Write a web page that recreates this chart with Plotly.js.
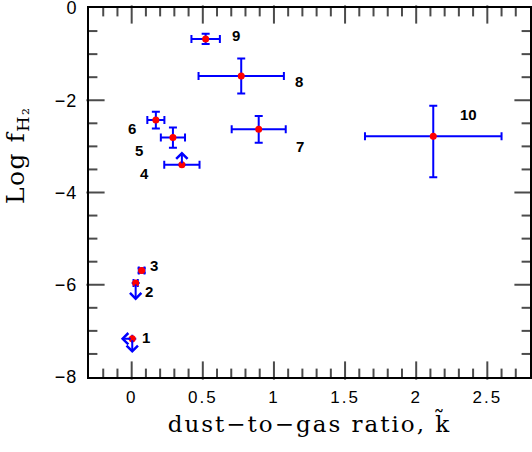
<!DOCTYPE html>
<html>
<head>
<meta charset="utf-8">
<script src="https://cdn.plot.ly/plotly-3.0.1.min.js"></script>
<style>
html,body{margin:0;padding:0;background:#fff;}#plot{width:532px;height:452px;}
text.xtitle, .g-xtitle text{letter-spacing:2px;}
g.annotation[data-index="14"] text{letter-spacing:1.5px;}
g.xtick text{letter-spacing:2px;}
g.ytick text{letter-spacing:1px;}
</style>
</head>
<body>
<div id="plot"></div>
<script>
// Data
const labels   = ['1','2','3','4','5','6','7','8','9','10'];
const kappa    = [0.004, 0.028, 0.07, 0.353, 0.29, 0.17, 0.893, 0.77, 0.52, 2.12];
const logf     = [-7.17, -5.96, -5.69, -3.40, -2.81, -2.43, -2.63, -1.475, -0.67, -2.78];
const kErr     = [0, 0.015, 0.02, 0.124, 0.085, 0.06, 0.19, 0.30, 0.10, 0.48];
const fErrPlus = [0, 0, 0.05, 0, 0.22, 0.18, 0.29, 0.38, 0.11, 0.66];
const fErrMinus= [0, 0, 0.05, 0, 0.22, 0.18, 0.29, 0.38, 0.11, 0.89];
// limit arrows: point index, arrow extent in k and in log f
const limitIdx = [0, 0, 1, 3];
const limitDk  = [-0.08, 0, 0, 0];
const limitDf  = [0, -0.31, -0.38, 0.29];
const xTicks = [0, 0.5, 1, 1.5, 2, 2.5];
const xTickText = ['0','0.5','1','1.5','2','2.5'];
const yTicks = [0, -2, -4, -6, -8];
const yTickText = ['0','\u22122','\u22124','\u22126','\u22128'];
const xRange = [-0.3, 2.8];
const yRange = [-8, 0];
const xMinorStep = 0.1;
const yMinorStep = 0.5;

// label offsets in px
const labDx = [14, 13, 12, -37, -34, -24, 41, 58, 30, 35];
const labDy = [1, -9, 5, -9, -13, -8, -17, -5, 3, 22];

const W = 532, H = 452, M = {l: 89, r: 2, t: 8, b: 75};
const pxX = (W - M.l - M.r) / (xRange[1] - xRange[0]);
const pxY = (H - M.t - M.b) / (yRange[1] - yRange[0]);
const majorLen = 13, minorLen = 7;

const blue = '#0000ff';

// tick marks as line-shaped markers centred half a tick length inside each edge
function near(a, v) { return a.some(t => Math.abs(t - v) < 1e-6); }
const vx = [], vy = [], vs = [];   // vertical ticks (x axis, bottom and top)
const hx = [], hy = [], hs = [];   // horizontal ticks (y axis, left and right)
function addXTick(v, len) {
  const d = len / 2 / pxY;
  vx.push(v, v); vy.push(yRange[0] + d, yRange[1] - d); vs.push(len, len);
}
function addYTick(v, len) {
  const d = len / 2 / pxX;
  hx.push(xRange[0] + d, xRange[1] - d); hy.push(v, v); hs.push(len, len);
}
xTicks.forEach(v => addXTick(v, majorLen));
yTicks.filter(v => v > yRange[0] && v < yRange[1]).forEach(v => addYTick(v, majorLen));
for (let k = Math.ceil(xRange[0] / xMinorStep + 1e-9); k * xMinorStep < xRange[1] - 1e-6; k++) {
  const v = +(k * xMinorStep).toFixed(3);
  if (near(xTicks, v) || v <= xRange[0] + 1e-6) continue;
  addXTick(v, minorLen);
}
for (let k = Math.ceil(yRange[0] / yMinorStep); k * yMinorStep < yRange[1] - 1e-6; k++) {
  const v = +(k * yMinorStep).toFixed(3);
  if (near(yTicks, v)) continue;
  addYTick(v, minorLen);
}
const vTickTrace = {x: vx, y: vy, type: 'scatter', mode: 'markers', cliponaxis: false, hoverinfo: 'none',
  marker: {symbol: 'line-ns', size: vs, color: '#000', line: {color: '#000', width: 2}}};
const hTickTrace = {x: hx, y: hy, type: 'scatter', mode: 'markers', cliponaxis: false, hoverinfo: 'none',
  marker: {symbol: 'line-ew', size: hs, color: '#000', line: {color: '#000', width: 2}}};

const trace = {
  x: kappa, y: logf, type: 'scatter', mode: 'markers',
  marker: {color: '#ff0000', size: 7},
  error_x: {type: 'data', array: kErr, symmetric: true, color: blue, thickness: 2, width: 4},
  error_y: {type: 'data', array: fErrPlus, arrayminus: fErrMinus, symmetric: false, color: blue, thickness: 2, width: 4},
  hoverinfo: 'none'
};

const annotations = [];
for (let i = 0; i < labels.length; i++) {
  annotations.push({x: kappa[i], y: logf[i], xref: 'x', yref: 'y', text: labels[i], showarrow: false,
    xshift: labDx[i], yshift: labDy[i], font: {family: 'Liberation Sans', size: 15, color: '#000', weight: 'bold'}});
}
for (let j = 0; j < limitIdx.length; j++) {
  const i = limitIdx[j];
  annotations.push({x: kappa[i] + limitDk[j], y: logf[i] + limitDf[j], xref: 'x', yref: 'y',
    ax: kappa[i], ay: logf[i], axref: 'x', ayref: 'y', text: '', showarrow: true,
    arrowhead: 4, arrowsize: 1.1, arrowwidth: 2, arrowcolor: blue, standoff: 0, startstandoff: 0});
}
// y-axis title (index 14)
annotations.push({xref: 'paper', yref: 'paper', x: -0.165, y: 0.6, xanchor: 'center', yanchor: 'middle',
  text: 'Log f<sub>H\u2082</sub>', textangle: -90, showarrow: false,
  font: {family: 'DejaVu Serif', size: 25, color: '#000'}});

const layout = {
  width: W, height: H,
  margin: M,
  paper_bgcolor: '#fff', plot_bgcolor: '#fff',
  showlegend: false,
  xaxis: {
    showline: true, linecolor: '#000', linewidth: 2, mirror: true,
    ticks: '', showgrid: false, zeroline: false, ticklabeloverflow: 'allow', ticklabelstandoff: 4,
    tickfont: {family: 'Liberation Sans', size: 17, color: '#000'},
    range: xRange, tickmode: 'array', tickvals: xTicks, ticktext: xTickText,
    title: {text: 'dust\u2212to\u2212gas ratio, k\u0303', font: {family: 'DejaVu Serif', size: 23, color: '#000'}, standoff: 9}
  },
  yaxis: {
    showline: true, linecolor: '#000', linewidth: 2, mirror: true,
    ticks: '', showgrid: false, zeroline: false, ticklabeloverflow: 'allow', ticklabelstandoff: 6,
    tickfont: {family: 'Liberation Sans', size: 18, color: '#000'},
    range: yRange, tickmode: 'array', tickvals: yTicks, ticktext: yTickText
  },
  annotations: annotations
};

Plotly.newPlot('plot', [vTickTrace, hTickTrace, trace], layout, {displayModeBar: false, staticPlot: true});
</script>
</body>
</html>
